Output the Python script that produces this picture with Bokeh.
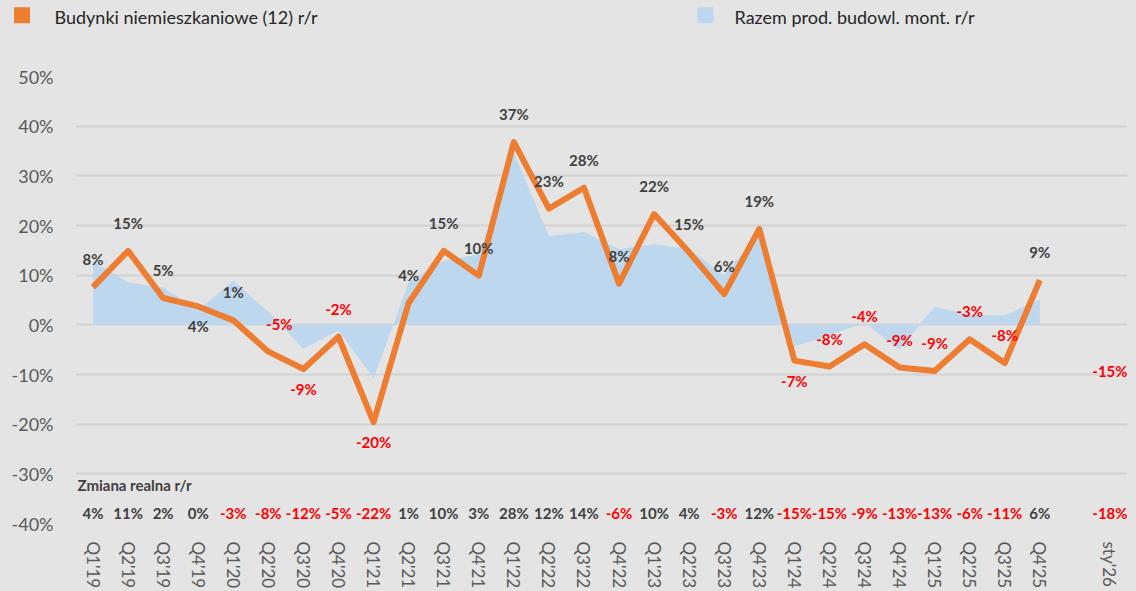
from bokeh.plotting import figure
from bokeh.layouts import column, row
from bokeh.models import Range1d, FixedTicker, PrintfTickFormatter, ColumnDataSource, Label
from bokeh.core.properties import value
from bokeh.embed import file_html
from bokeh.resources import INLINE

# ---------------- data ----------------
categories = ["Q1'19", "Q2'19", "Q3'19", "Q4'19", "Q1'20", "Q2'20", "Q3'20", "Q4'20",
              "Q1'21", "Q2'21", "Q3'21", "Q4'21", "Q1'22", "Q2'22", "Q3'22", "Q4'22",
              "Q1'23", "Q2'23", "Q3'23", "Q4'23", "Q1'24", "Q2'24", "Q3'24", "Q4'24",
              "Q1'25", "Q2'25", "Q3'25", "Q4'25", "", "sty'26"]

# Budynki niemieszkaniowe (12) r/r, nominal, %
budynki = [7.6, 14.9, 5.4, 3.7, 0.9, -5.4, -8.9, -2.4, -19.6, 4.4, 14.9, 9.9,
           36.8, 23.4, 27.6, 8.3, 22.3, 14.6, 6.2, 19.3, -7.2, -8.4, -3.9, -8.6,
           -9.3, -2.9, -7.7, 9.0]
budynki_sty26 = -15.0

# Razem prod. budowl.-mont. r/r, %
razem = [12.8, 8.5, 7.5, 3.0, 8.9, 2.6, -4.8, -1.1, -10.8, 8.5, 12.9, 14.2,
         34.6, 17.9, 18.7, 15.2, 16.2, 15.3, 9.9, 18.5, -4.3, -2.1, 0.4, -5.0,
         3.7, 2.0, 1.9, 5.1]

# Zmiana realna r/r (bottom row), None = no value
realna = [4, 11, 2, 0, -3, -8, -12, -5, -22, 1, 10, 3, 28, 12, 14, -6, 10, 4,
          -3, 12, -15, -15, -9, -13, -13, -6, -11, 6, None, -18]

series_names = ["Budynki niemieszkaniowe (12) r/r", "Razem prod. budowl. mont. r/r"]
row_title = "Zmiana realna r/r"

# label placement for the line's data labels
label_side = ["above", "above", "above", "below", "above", "above", "below", "above",
              "below", "above", "above", "above", "above", "above", "above", "above",
              "above", "above", "above", "above", "below", "above", "above", "above",
              "above", "above", "above", "above"]
label_nudge_x = {5: 11}          # category index -> horizontal nudge in px

# ---------------- style ----------------
BG = "#E4E4E4"
ORANGE = "#ED7D31"
BLUE = "#BDD7EE"
DARK = "#404040"
RED = "#FF0000"
GREY = "#595959"
FONT = "Lato"

W = 1136
LEG_H = 30                       # height of legend strip
H = 591 - LEG_H
LEFT, TOP, BOTTOM, RIGHT = 75, 76 - LEG_H, 68, 9
X0, X1 = -0.5, 29.5
Y0, Y1 = -40, 50
FRAME_W = W - LEFT - RIGHT
FRAME_H = 591 - 76 - BOTTOM


def sx(px):  # page pixel -> data x
    return X0 + (px - LEFT) * (X1 - X0) / FRAME_W


def sy(py):  # page pixel -> data y
    return Y1 - (py - 76) * (Y1 - Y0) / FRAME_H


# ---------------- legend strip ----------------
lg = figure(width=W, height=LEG_H, x_range=Range1d(0, W), y_range=Range1d(LEG_H, 0),
            output_backend="svg", toolbar_location=None,
            min_border_left=0, min_border_right=0, min_border_top=0, min_border_bottom=0)
lg.xaxis.visible = False
lg.yaxis.visible = False
lg.grid.visible = False
lg.outline_line_color = None
lg.background_fill_color = BG
lg.border_fill_color = BG
lg.quad(left=[13.5, 697], right=[29.5, 713], top=[6.7, 6.7], bottom=[22.7, 22.7],
        fill_color=[ORANGE, BLUE], line_color=None)
lg.text(x=[54, 734], y=[16.5, 16.5], text=series_names,
        text_font=value(FONT), text_font_size="18px", text_color="#262626",
        text_align="left", text_baseline="middle")

# ---------------- main chart ----------------
p = figure(width=W, height=H, x_range=Range1d(X0, X1), y_range=Range1d(Y0, Y1),
           output_backend="svg", toolbar_location=None,
           min_border_left=LEFT, min_border_right=RIGHT,
           min_border_top=TOP, min_border_bottom=BOTTOM)
p.background_fill_color = BG
p.border_fill_color = BG
p.outline_line_color = None

xticks = [i for i, c in enumerate(categories) if c]
p.xaxis.ticker = FixedTicker(ticks=xticks)
p.xaxis.major_label_overrides = {i: categories[i] for i in xticks}
p.xaxis.major_label_orientation = "vertical"
p.xaxis.axis_line_color = None
p.xaxis.major_tick_line_color = None
p.xaxis.minor_tick_line_color = None
p.xaxis.major_label_text_font = FONT
p.xaxis.major_label_text_font_size = "17px"
p.xaxis.major_label_text_color = GREY
p.xaxis.major_label_standoff = 12

p.yaxis.ticker = FixedTicker(ticks=list(range(-40, 51, 10)))
p.yaxis.formatter = PrintfTickFormatter(format="%d%%")
p.yaxis.axis_line_color = None
p.yaxis.major_tick_line_color = None
p.yaxis.minor_tick_line_color = None
p.yaxis.major_label_text_font = FONT
p.yaxis.major_label_text_font_size = "18px"
p.yaxis.major_label_text_color = GREY
p.yaxis.major_label_standoff = 16

p.xgrid.visible = False
p.ygrid.grid_line_color = "#D2D2D2"
p.ygrid.grid_line_width = 2

idx = list(range(len(budynki)))
p.varea(x=idx, y1=[0] * len(razem), y2=razem, fill_color=BLUE)
p.line(x=idx, y=budynki, line_color=ORANGE, line_width=6, line_join="round")

# data labels for the line (+ sty'26 value shown without line)
lab_x = idx + [len(categories) - 1]
lab_y = budynki + [budynki_sty26]
lab_side = label_side + ["above"]
src = ColumnDataSource(dict(
    x=lab_x, y=lab_y,
    t=[f"{round(v):d}%" for v in lab_y],
    c=[RED if round(v) < 0 else DARK for v in lab_y],
    yo=[-28 if s == "above" else 20 for s in lab_side],
    xo=[label_nudge_x.get(i, 0) for i in lab_x],
))
p.text(x="x", y="y", text="t", text_color="c", x_offset="xo", y_offset="yo", source=src,
       text_font=value(FONT), text_font_style="bold", text_font_size="15px",
       text_align="center", text_baseline="middle")

# bottom row "Zmiana realna r/r"
rx = [i for i, v in enumerate(realna) if v is not None]
rv = [realna[i] for i in rx]
rsrc = ColumnDataSource(dict(
    x=rx, t=[f"{v:d}%" for v in rv],
    c=[RED if v < 0 else DARK for v in rv],
))
p.text(x="x", y=sy(512.7), text="t", text_color="c", source=rsrc,
       text_font=value(FONT), text_font_style="bold", text_font_size="15px",
       text_align="center", text_baseline="middle")

p.add_layout(Label(x=sx(77), y=sy(484), text=row_title,
                   text_font=FONT, text_font_style="bold", text_font_size="15px",
                   text_color=DARK, text_align="left", text_baseline="middle"))

page = column(row(lg, spacing=0), p, spacing=0, styles={"background-color": BG})
open("out.html", "w").write(file_html(page, INLINE))
